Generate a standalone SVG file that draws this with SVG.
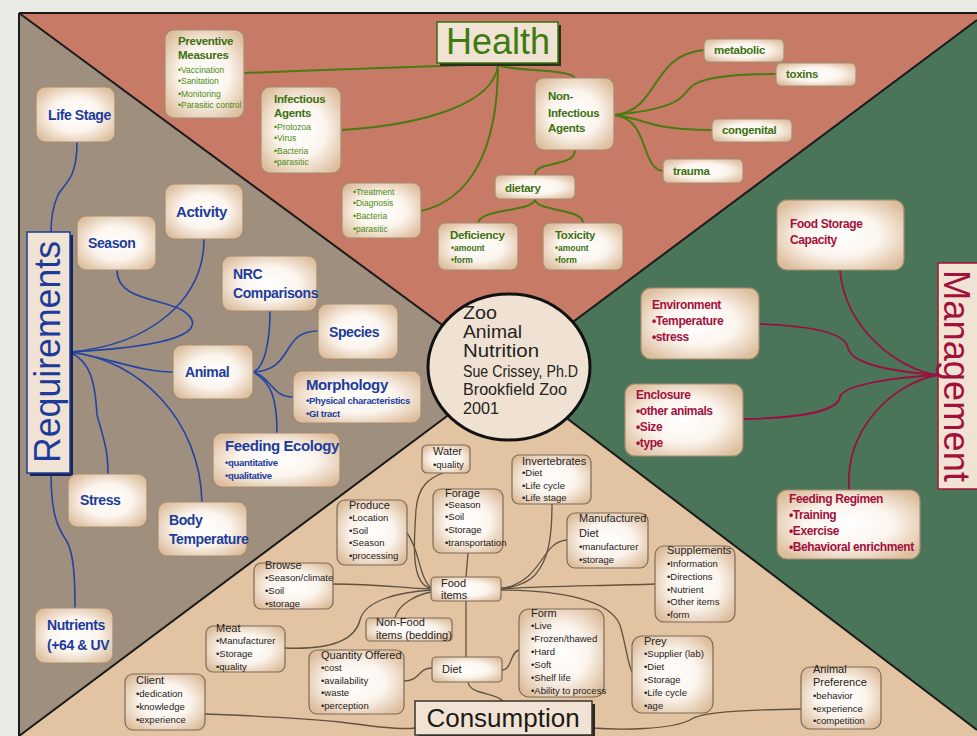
<svg xmlns="http://www.w3.org/2000/svg" width="977" height="736" viewBox="0 0 977 736">
<defs>
<radialGradient id="ng" cx="50%" cy="50%" r="62%">
<stop offset="0" stop-color="#ffffff"/>
<stop offset="0.5" stop-color="#fcf5ee"/>
<stop offset="1" stop-color="#dcbd9c"/>
</radialGradient>
<style>
text{font-family:"Liberation Sans",Arial,sans-serif}
.nb{fill:url(#ng);stroke:#a68c73;stroke-width:1.2}
.cb{fill:url(#ng);stroke:#7d6b58;stroke-width:1.2}
.h{fill:#3d7010;font-size:11.5px;font-weight:bold;letter-spacing:-0.3px}
.hs{fill:#4a8a12;font-size:8.5px}
.hb{fill:#3d7010;font-size:8.5px;font-weight:bold}
.r{fill:#1c3c9c;font-size:14px;font-weight:bold;letter-spacing:-0.4px}
.rt{fill:#1c3c9c;font-size:15px;font-weight:bold;letter-spacing:-0.4px}
.rs{fill:#1c3c9c;font-size:9.5px;font-weight:bold;letter-spacing:-0.3px}
.m{fill:#a3103c;font-size:12px;font-weight:bold;letter-spacing:-0.4px}
.c{fill:#262220;font-size:11px}
.cs{fill:#262220;font-size:9.5px}
.hc{fill:none;stroke:#4a7a12;stroke-width:2}
.rc{fill:none;stroke:#2444a4;stroke-width:1.6}
.mc{fill:none;stroke:#9a1040;stroke-width:1.8}
.cc{fill:none;stroke:#5e5243;stroke-width:1.3}
.ct{fill:#252220;font-size:19px}
.ct2{fill:#252220;font-size:16px}
</style>
</defs>

<!-- background -->
<rect x="0" y="0" width="977" height="736" fill="#e9e9e5"/>
<polygon points="19,13 977,13 977,20 506,372" fill="#c77b66"/>
<polygon points="977,20 977,730 506,372" fill="#4b7558"/>
<polygon points="19,736 977,736 977,730 506,372" fill="#e2c4a2"/>
<polygon points="19,13 506,372 19,736" fill="#9f8f7f"/>
<g stroke="#1a1a1a" stroke-width="2" fill="none">
<line x1="19" y1="13" x2="506" y2="372"/>
<line x1="977" y1="20" x2="506" y2="372"/>
<line x1="19" y1="736" x2="506" y2="372"/>
<line x1="977" y1="730" x2="506" y2="372"/>
<line x1="19" y1="13" x2="977" y2="13"/>
<line x1="19" y1="13" x2="19" y2="736"/>
</g>

<!-- connectors -->
<g id="connectors">
<g id="health-links">
<path class="hc" d="M498,64 C420,66 330,70 244,73"/>
<path class="hc" d="M498,64 C495,105 420,125 342,130"/>
<path class="hc" d="M498,64 C498,150 470,200 421,211"/>
<path class="hc" d="M498,64 C505,72 570,68 575,78"/>
<path class="hc" d="M575,150 C575,168 535,160 535,175"/>
<path class="hc" d="M535,199 C535,212 480,208 478,223"/>
<path class="hc" d="M535,199 C535,212 583,208 583,223"/>
<path class="hc" d="M615,115 C660,110 650,55 704,50"/>
<path class="hc" d="M615,115 C680,108 680,98 690,88 C700,76 740,74 776,74"/>
<path class="hc" d="M615,115 C650,120 650,130 712,130"/>
<path class="hc" d="M615,115 C650,120 640,168 663,171"/>
</g>
<g id="requirements-links">
<path class="rc" d="M77,142 C77,180 65,182 58,195 C52,208 51,220 51,232"/>
<path class="rc" d="M51,473 C51,520 60,530 66,540 C74,552 75,580 75,608"/>
<path class="rc" d="M117,270 C117,300 160,298 182,310 C205,325 200,345 70,352"/>
<path class="rc" d="M204,239 C204,300 150,345 70,352"/>
<path class="rc" d="M70,352 C110,358 140,372 173,372"/>
<path class="rc" d="M70,352 C90,362 95,380 97,415 C104,440 108,450 108,474"/>
<path class="rc" d="M70,352 C140,360 200,420 202,502"/>
<path class="rc" d="M270,311 C270,340 265,368 253,372"/>
<path class="rc" d="M318,331 C280,331 295,370 253,372"/>
<path class="rc" d="M253,372 C272,378 272,397 293,397"/>
<path class="rc" d="M253,372 C272,382 277,400 277,433"/>
</g>
<g id="management-links">
<path class="mc" d="M840,270 C845,330 900,370 937,375"/>
<path class="mc" d="M759,324 C810,326 845,332 848,348 C852,366 900,372 937,375"/>
<path class="mc" d="M743,419 C805,418 838,410 840,397 C843,384 900,377 937,375"/>
<path class="mc" d="M849,490 C845,430 890,385 937,375"/>
</g>
<g id="consumption-links">
<path class="cc" d="M443,473 C430,478 418,485 416,510 C414,540 410,585 431,588"/>
<path class="cc" d="M407,533 C420,550 418,575 431,588"/>
<path class="cc" d="M468,553 L466,577"/>
<path class="cc" d="M552,504 C552,540 548,560 535,575 C525,585 510,588 501,588"/>
<path class="cc" d="M567,540 C540,542 545,580 501,589"/>
<path class="cc" d="M655,584 C600,586 540,586 501,589"/>
<path class="cc" d="M501,590 C560,590 610,600 620,625 C626,645 628,665 632,672"/>
<path class="cc" d="M333,584 C380,584 400,588 431,589"/>
<path class="cc" d="M285,648 C330,650 355,640 360,620 C365,600 400,592 431,590"/>
<path class="cc" d="M395,618 C398,605 415,595 431,592"/>
<path class="cc" d="M466,601 L466,657"/>
<path class="cc" d="M404,681 C420,681 418,668 432,668"/>
<path class="cc" d="M502,670 C512,670 510,652 519,650"/>
<path class="cc" d="M468,682 C470,695 495,692 503,701"/>
<path class="cc" d="M205,714 C260,716 300,718 340,722 C370,726 400,730 415,728"/>
<path class="cc" d="M801,709 C740,710 700,712 690,720 C670,730 620,730 592,728"/>
</g>
</g>

<!-- center -->
<g id="center">
<ellipse cx="509" cy="367" rx="81" ry="73" fill="#efe2d3" stroke="#111" stroke-width="3"/>
<text class="ct" x="463" y="319" textLength="34" lengthAdjust="spacingAndGlyphs">Zoo</text>
<text class="ct" x="463" y="338" textLength="59" lengthAdjust="spacingAndGlyphs">Animal</text>
<text class="ct" x="463" y="357" textLength="76" lengthAdjust="spacingAndGlyphs">Nutrition</text>
<text class="ct2" x="463" y="377" textLength="115" lengthAdjust="spacingAndGlyphs">Sue Crissey, Ph.D</text>
<text class="ct2" x="463" y="395" textLength="104" lengthAdjust="spacingAndGlyphs">Brookfield Zoo</text>
<text class="ct2" x="463" y="414" textLength="36" lengthAdjust="spacingAndGlyphs">2001</text>
</g>

<!-- titles -->
<g id="title-health">
<rect x="440" y="25" width="121" height="41" fill="#26331a"/>
<rect x="437" y="22" width="121" height="41" fill="#f1e3d3" stroke="#3d7010" stroke-width="1.5"/>
<text x="498" y="54" text-anchor="middle" font-size="36" fill="#3d7a10">Health</text>
</g>
<g id="title-requirements">
<rect x="30" y="235" width="43" height="241" fill="#1b2552"/>
<rect x="27" y="232" width="43" height="241" fill="#f1e3d3" stroke="#1c3c9c" stroke-width="1.5"/>
<text x="49" y="363" transform="rotate(-90 49 352)" text-anchor="middle" font-size="36" fill="#1c3c9c" textLength="222" lengthAdjust="spacingAndGlyphs">Requirements</text>
</g>
<g id="title-management">
<rect x="938" y="263" width="50" height="226" fill="#f1e3d3" stroke="#a3103c" stroke-width="1.5"/>
<text x="957" y="389" transform="rotate(90 957 376)" text-anchor="middle" font-size="36" fill="#a3103c" textLength="212" lengthAdjust="spacingAndGlyphs">Management</text>
</g>
<g id="title-consumption">
<rect x="418" y="704" width="177" height="34" fill="#2a2520"/>
<rect x="415" y="701" width="177" height="34" fill="#f1e3d3" stroke="#3a342c" stroke-width="1.5"/>
<text x="503" y="727" text-anchor="middle" font-size="26" fill="#1c1a18">Consumption</text>
</g>

<!-- health nodes -->
<g id="preventive-measures">
<rect class="nb" x="165" y="30" width="79" height="88" rx="9"/>
<text class="h" x="178" y="45">Preventive</text>
<text class="h" x="178" y="59">Measures</text>
<text class="hs" x="178" y="73">•Vaccination</text>
<text class="hs" x="178" y="84">•Sanitation</text>
<text class="hs" x="178" y="97">•Monitoring</text>
<text class="hs" x="178" y="108">•Parasitic control</text>
</g>
<g id="infectious-agents">
<rect class="nb" x="261" y="87" width="80" height="86" rx="9"/>
<text class="h" x="274" y="103">Infectious</text>
<text class="h" x="274" y="117">Agents</text>
<text class="hs" x="274" y="130">•Protozoa</text>
<text class="hs" x="274" y="141">•Virus</text>
<text class="hs" x="274" y="154">•Bacteria</text>
<text class="hs" x="274" y="165">•parasitic</text>
</g>
<g id="treatment">
<rect class="nb" x="342" y="183" width="79" height="55" rx="8"/>
<text class="hs" x="353" y="195">•Treatment</text>
<text class="hs" x="353" y="206">•Diagnosis</text>
<text class="hs" x="353" y="219">•Bacteria</text>
<text class="hs" x="353" y="232">•parasitic</text>
</g>
<g id="non-infectious-agents">
<rect class="nb" x="535" y="78" width="79" height="72" rx="9"/>
<text class="h" x="548" y="100" font-size="12">Non-</text>
<text class="h" x="548" y="117" font-size="12">Infectious</text>
<text class="h" x="548" y="132" font-size="12">Agents</text>
</g>
<g id="dietary">
<rect class="nb" x="495" y="175" width="80" height="24" rx="5"/>
<text class="h" x="505" y="192" font-size="12">dietary</text>
</g>
<g id="deficiency">
<rect class="nb" x="438" y="223" width="80" height="47" rx="7"/>
<text class="h" x="450" y="239" font-size="12">Deficiency</text>
<text class="hb" x="451" y="251">•amount</text>
<text class="hb" x="451" y="263">•form</text>
</g>
<g id="toxicity">
<rect class="nb" x="543" y="223" width="80" height="47" rx="7"/>
<text class="h" x="555" y="239" font-size="12">Toxicity</text>
<text class="hb" x="555" y="251">•amount</text>
<text class="hb" x="555" y="263">•form</text>
</g>
<g id="metabolic">
<rect class="nb" x="704" y="39" width="80" height="23" rx="5"/>
<text class="h" x="714" y="54" font-size="12">metabolic</text>
</g>
<g id="toxins">
<rect class="nb" x="776" y="63" width="80" height="23" rx="5"/>
<text class="h" x="786" y="78" font-size="12">toxins</text>
</g>
<g id="congenital">
<rect class="nb" x="712" y="119" width="80" height="23" rx="5"/>
<text class="h" x="722" y="134" font-size="12">congenital</text>
</g>
<g id="trauma">
<rect class="nb" x="663" y="159" width="80" height="24" rx="5"/>
<text class="h" x="673" y="175" font-size="12">trauma</text>
</g>

<!-- requirements nodes -->
<g id="life-stage">
<rect class="nb" x="36" y="87" width="79" height="55" rx="9"/>
<text class="r" x="48" y="120">Life Stage</text>
</g>
<g id="season">
<rect class="nb" x="77" y="216" width="79" height="54" rx="9"/>
<text class="r" x="88" y="248">Season</text>
</g>
<g id="activity">
<rect class="nb" x="165" y="184" width="78" height="55" rx="9"/>
<text class="rt" x="176" y="217">Activity</text>
</g>
<g id="nrc-comparisons">
<rect class="nb" x="222" y="256" width="95" height="55" rx="9"/>
<text class="r" x="233" y="279">NRC</text>
<text class="r" x="233" y="298">Comparisons</text>
</g>
<g id="species">
<rect class="nb" x="318" y="304" width="80" height="55" rx="9"/>
<text class="r" x="329" y="337">Species</text>
</g>
<g id="animal">
<rect class="nb" x="173" y="345" width="80" height="54" rx="9"/>
<text class="r" x="185" y="377">Animal</text>
</g>
<g id="morphology">
<rect class="nb" x="293" y="371" width="128" height="52" rx="9"/>
<text class="rt" x="306" y="390">Morphology</text>
<text class="rs" x="306" y="404">•Physical characteristics</text>
<text class="rs" x="306" y="417">•GI tract</text>
</g>
<g id="feeding-ecology">
<rect class="nb" x="213" y="433" width="127" height="54" rx="9"/>
<text class="rt" x="225" y="451" font-size="14">Feeding Ecology</text>
<text class="rs" x="225" y="466">•quantitative</text>
<text class="rs" x="225" y="479">•qualitative</text>
</g>
<g id="stress">
<rect class="nb" x="68" y="474" width="79" height="53" rx="9"/>
<text class="r" x="80" y="505">Stress</text>
</g>
<g id="body-temperature">
<rect class="nb" x="158" y="502" width="89" height="54" rx="9"/>
<text class="r" x="169" y="525">Body</text>
<text class="r" x="169" y="544">Temperature</text>
</g>
<g id="nutrients">
<rect class="nb" x="35" y="608" width="78" height="55" rx="9"/>
<text class="r" x="47" y="630">Nutrients</text>
<text class="r" x="47" y="650">(+64 &amp; UV</text>
</g>

<!-- management nodes -->
<g id="food-storage-capacity">
<rect class="nb" x="777" y="200" width="127" height="70" rx="10"/>
<text class="m" x="790" y="228">Food Storage</text>
<text class="m" x="790" y="244">Capacity</text>
</g>
<g id="environment">
<rect class="nb" x="641" y="288" width="118" height="71" rx="10"/>
<text class="m" x="652" y="309">Environment</text>
<text class="m" x="652" y="325">•Temperature</text>
<text class="m" x="652" y="341">•stress</text>
</g>
<g id="enclosure">
<rect class="nb" x="625" y="384" width="118" height="72" rx="10"/>
<text class="m" x="636" y="399">Enclosure</text>
<text class="m" x="636" y="415">•other animals</text>
<text class="m" x="636" y="431">•Size</text>
<text class="m" x="636" y="447">•type</text>
</g>
<g id="feeding-regimen">
<rect class="nb" x="777" y="490" width="143" height="69" rx="10"/>
<text class="m" x="789" y="503">Feeding Regimen</text>
<text class="m" x="789" y="519">•Training</text>
<text class="m" x="789" y="535">•Exercise</text>
<text class="m" x="789" y="551" font-size="11.5">•Behavioral enrichment</text>
</g>

<!-- consumption nodes -->
<g id="water">
<rect class="cb" x="422" y="445" width="48" height="28" rx="5"/>
<text class="c" x="433" y="455">Water</text>
<text class="cs" x="433" y="468">•quality</text>
</g>
<g id="invertebrates">
<rect class="cb" x="512" y="455" width="79" height="49" rx="7"/>
<text class="c" x="522" y="465">Invertebrates</text>
<text class="cs" x="522" y="476">•Diet</text>
<text class="cs" x="522" y="489">•Life cycle</text>
<text class="cs" x="522" y="501">•Life stage</text>
</g>
<g id="forage">
<rect class="cb" x="433" y="489" width="70" height="64" rx="8"/>
<text class="c" x="445" y="497">Forage</text>
<text class="cs" x="445" y="508">•Season</text>
<text class="cs" x="445" y="520">•Soil</text>
<text class="cs" x="445" y="533">•Storage</text>
<text class="cs" x="445" y="546">•transportation</text>
</g>
<g id="produce">
<rect class="cb" x="337" y="500" width="70" height="65" rx="8"/>
<text class="c" x="349" y="509">Produce</text>
<text class="cs" x="349" y="521">•Location</text>
<text class="cs" x="349" y="534">•Soil</text>
<text class="cs" x="349" y="546">•Season</text>
<text class="cs" x="349" y="559">•processing</text>
</g>
<g id="manufactured-diet">
<rect class="cb" x="567" y="513" width="81" height="55" rx="8"/>
<text class="c" x="579" y="522">Manufactured</text>
<text class="c" x="579" y="537">Diet</text>
<text class="cs" x="579" y="550">•manufacturer</text>
<text class="cs" x="579" y="563">•storage</text>
</g>
<g id="supplements">
<rect class="cb" x="655" y="546" width="80" height="76" rx="9"/>
<text class="c" x="667" y="554">Supplements</text>
<text class="cs" x="667" y="567">•Information</text>
<text class="cs" x="667" y="580">•Directions</text>
<text class="cs" x="667" y="593">•Nutrient</text>
<text class="cs" x="667" y="605">•Other items</text>
<text class="cs" x="667" y="618">•form</text>
</g>
<g id="food-items">
<rect class="cb" x="431" y="577" width="70" height="24" rx="4"/>
<text class="c" x="441" y="587">Food</text>
<text class="c" x="441" y="599">items</text>
</g>
<g id="browse">
<rect class="cb" x="254" y="563" width="79" height="46" rx="7"/>
<text class="c" x="265" y="569">Browse</text>
<text class="cs" x="265" y="581">•Season/climate</text>
<text class="cs" x="265" y="594">•Soil</text>
<text class="cs" x="265" y="607">•storage</text>
</g>
<g id="meat">
<rect class="cb" x="206" y="626" width="79" height="46" rx="7"/>
<text class="c" x="216" y="632">Meat</text>
<text class="cs" x="216" y="644">•Manufacturer</text>
<text class="cs" x="216" y="657">•Storage</text>
<text class="cs" x="216" y="670">•quality</text>
</g>
<g id="non-food-items">
<rect class="cb" x="366" y="618" width="86" height="23" rx="4"/>
<text class="c" x="376" y="626">Non-Food</text>
<text class="c" x="376" y="639">items (bedding)</text>
</g>
<g id="quantity-offered">
<rect class="cb" x="309" y="650" width="95" height="64" rx="8"/>
<text class="c" x="321" y="659">Quantity Offered</text>
<text class="cs" x="321" y="671">•cost</text>
<text class="cs" x="321" y="684">•availability</text>
<text class="cs" x="321" y="696">•waste</text>
<text class="cs" x="321" y="709">•perception</text>
</g>
<g id="client">
<rect class="cb" x="125" y="674" width="80" height="56" rx="8"/>
<text class="c" x="136" y="684">Client</text>
<text class="cs" x="136" y="697">•dedication</text>
<text class="cs" x="136" y="710">•knowledge</text>
<text class="cs" x="136" y="723">•experience</text>
</g>
<g id="diet">
<rect class="cb" x="432" y="657" width="70" height="25" rx="4"/>
<text class="c" x="442" y="673">Diet</text>
</g>
<g id="form">
<rect class="cb" x="519" y="609" width="85" height="88" rx="10"/>
<text class="c" x="531" y="617">Form</text>
<text class="cs" x="531" y="629">•Live</text>
<text class="cs" x="531" y="642">•Frozen/thawed</text>
<text class="cs" x="531" y="655">•Hard</text>
<text class="cs" x="531" y="668">•Soft</text>
<text class="cs" x="531" y="681">•Shelf life</text>
<text class="cs" x="531" y="694">•Ability to process</text>
</g>
<g id="prey">
<rect class="cb" x="632" y="636" width="81" height="77" rx="10"/>
<text class="c" x="644" y="645">Prey</text>
<text class="cs" x="644" y="657">•Supplier (lab)</text>
<text class="cs" x="644" y="670">•Diet</text>
<text class="cs" x="644" y="683">•Storage</text>
<text class="cs" x="644" y="696">•Life cycle</text>
<text class="cs" x="644" y="709">•age</text>
</g>
<g id="animal-preference">
<rect class="cb" x="801" y="667" width="80" height="62" rx="9"/>
<text class="c" x="813" y="673">Animal</text>
<text class="c" x="813" y="686">Preference</text>
<text class="cs" x="813" y="699">•behavior</text>
<text class="cs" x="813" y="712">•experience</text>
<text class="cs" x="813" y="724">•competition</text>
</g>
</svg>
